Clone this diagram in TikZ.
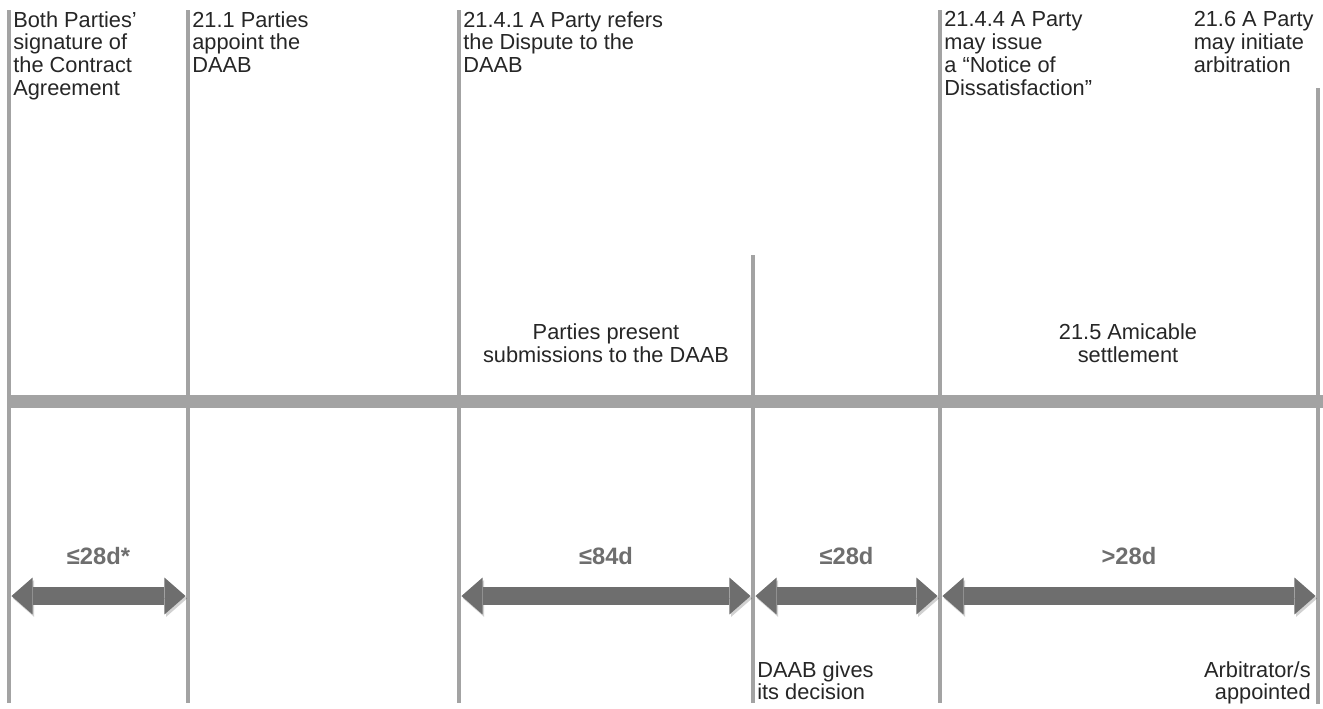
\documentclass[tikz,border=0pt]{standalone}
\usepackage{fontspec}
\setmainfont{Liberation Sans}
\usetikzlibrary{arrows.meta}

\definecolor{linegray}{HTML}{A3A3A3}
\definecolor{arrowgray}{HTML}{6E6E6E}
\definecolor{textgray}{HTML}{262626}

\begin{document}
\begin{tikzpicture}[x = 0.02cm, y = -0.02cm,
    every node/.style = {inner sep = 0pt, text = textgray,
        font = \fontsize{12.4}{13}\selectfont},
    event/.style = {draw = linegray, line width = 2.2pt},
    timeline/.style = {draw = linegray, line width = 7.4pt},
    span/.style = {draw = arrowgray, line width = 10pt,
        {Triangle[length = 12pt, width = 21pt, line width = 0pt]}-{Triangle[length = 12pt, width = 21pt, line width = 0pt]},
        shorten < = 1.4pt, shorten > = 1.4pt,
        preaction = {draw = black, opacity = .18,
            transform canvas = {xshift = .9pt, yshift = -1.4pt}}},
    dur/.style = {text = arrowgray, font = \fontsize{13.5}{15}\selectfont\bfseries,
        midway, yshift = 0.8cm}]
    \useasboundingbox (0,0) rectangle (1323,708);

    % the timeline
    \coordinate (bar-l) at (9,401);
    \coordinate (bar-r) at (1323,401);
    \draw[timeline] (bar-l) -- (bar-r);

    % events
    \coordinate (sign-t) at (9,10);       \coordinate (sign-b) at (9,703);
    \coordinate (appoint-t) at (188,10);  \coordinate (appoint-b) at (188,703);
    \coordinate (refer-t) at (459,10);    \coordinate (refer-b) at (459,703);
    \coordinate (decide-t) at (753,255);  \coordinate (decide-b) at (753,703);
    \coordinate (notice-t) at (940,10);   \coordinate (notice-b) at (940,703);
    \coordinate (arbit-t) at (1318,88);   \coordinate (arbit-b) at (1318,704);
    \draw[event] (sign-t) -- (sign-b);
    \draw[event] (appoint-t) -- (appoint-b);
    \draw[event] (refer-t) -- (refer-b);
    \draw[event] (decide-t) -- (decide-b);
    \draw[event] (notice-t) -- (notice-b);
    \draw[event] (arbit-t) -- (arbit-b);

    \node[anchor = north west, align = left] (sign-txt) at (13,11)
        {Both Parties’\\signature of\\the Contract\\Agreement};
    \node[anchor = north west, align = left] (appoint-txt) at (192,11)
        {21.1 Parties\\appoint the\\DAAB};
    \node[anchor = north west, align = left] (refer-txt) at (463,11)
        {21.4.1 A Party refers\\the Dispute to the\\DAAB};
    \node[anchor = north west, align = left] (notice-txt) at (944,11)
        {21.4.4 A Party\\may issue\\a “Notice of\\Dissatisfaction”};
    \node[anchor = north east, align = left] (arbit-txt) at (1314,11)
        {21.6 A Party\\may initiate\\arbitration};

    \node[align = center] (submit-txt) at (606,343)
        {Parties present\\submissions to the DAAB};
    \node[align = center] (amicable-txt) at (1128,343)
        {21.5 Amicable\\settlement};

    \node[anchor = north west, align = left] (decide-txt) at (757,661)
        {DAAB gives\\its decision};
    \node[anchor = north east, align = right] (appointed-txt) at (1311,661)
        {Arbitrator/s\\appointed};

    % periods
    \coordinate (arr) at (0,596);
    \draw[span] (sign-t |- arr) -- node[dur] {≤28d*} (appoint-t |- arr);
    \draw[span] (refer-t |- arr) -- node[dur] {≤84d} (decide-t |- arr);
    \draw[span] (decide-t |- arr) -- node[dur] {≤28d} (notice-t |- arr);
    \draw[span] (notice-t |- arr) -- node[dur] {>28d} (arbit-t |- arr);
\end{tikzpicture}
\end{document}
